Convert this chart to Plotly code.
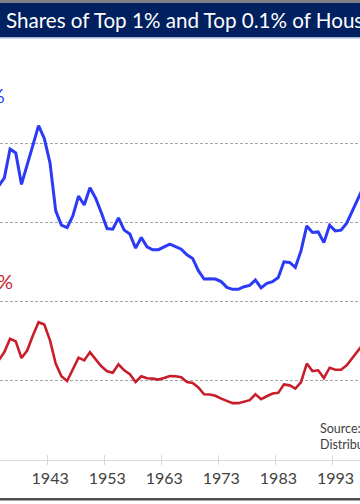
import plotly.graph_objects as go

years = list(range(1934, 1999))
top1 = [13.84, 14.25, 15.71, 15.51, 13.92, 14.93, 15.93, 16.89, 16.24, 15.01,
        12.58, 11.86, 11.74, 12.33, 13.33, 12.88, 13.75, 13.22, 12.49, 11.69,
        11.66, 12.23, 11.61, 11.41, 10.70, 11.24, 10.77, 10.62, 10.62, 10.77,
        10.90, 10.78, 10.65, 10.36, 10.18, 9.56, 9.14, 9.16, 9.14, 9.01,
        8.72, 8.62, 8.62, 8.75, 8.82, 9.09, 8.69, 8.92, 9.01, 9.22,
        10.01, 9.98, 9.73, 10.57, 11.82, 11.49, 11.52, 10.98, 11.86, 11.57,
        11.61, 11.96, 12.58, 13.17, 13.84]
top01 = [5.03, 5.45, 6.12, 5.99, 5.15, 5.53, 6.29, 6.96, 6.84, 6.04,
         4.87, 4.23, 3.99, 4.56, 5.17, 5.03, 5.45, 5.08, 4.73, 4.48,
         4.41, 4.83, 4.53, 4.33, 3.94, 4.23, 4.13, 4.11, 4.06, 4.14,
         4.24, 4.23, 4.18, 3.94, 3.89, 3.66, 3.32, 3.31, 3.24, 3.10,
         2.97, 2.87, 2.87, 2.93, 3.02, 3.32, 3.07, 3.22, 3.36, 3.39,
         3.82, 3.77, 3.61, 3.94, 4.87, 4.49, 4.53, 4.14, 4.66, 4.56,
         4.56, 4.78, 5.17, 5.53, 5.90]
tick_years = [1933, 1943, 1953, 1963, 1973, 1983, 1993]
tick_labels = [str(y) for y in tick_years]
grid_vals = [4, 8, 12, 16, 20]

BLUE = "#2b3af7"
RED = "#c81e2b"
FONT = "Lato"

W, H = 360, 504
TOP, BOT = 64, 460
PH = BOT - TOP

def py(px):
    return (BOT - px) / PH

fig = go.Figure()
fig.add_trace(go.Scatter(x=years, y=top1, mode="lines",
                         line=dict(color=BLUE, width=3), showlegend=False))
fig.add_trace(go.Scatter(x=years, y=top01, mode="lines",
                         line=dict(color=RED, width=2.6), showlegend=False))
# invisible trace for secondary tick axis
fig.add_trace(go.Scatter(x=[years[0]], y=[0], xaxis="x2", mode="markers",
                         marker=dict(opacity=0), showlegend=False, hoverinfo="skip"))

x0 = 1943 - 50 / 5.706
x1 = x0 + W / 5.706

fig.update_layout(
    width=W, height=H,
    margin=dict(l=0, r=0, t=TOP, b=H - BOT),
    paper_bgcolor="white", plot_bgcolor="white",
    font=dict(family=FONT, color="#404040"),
    xaxis=dict(range=[x0, x1], tickvals=[y - 0.5 for y in tick_years], ticktext=tick_labels,
               ticklabelshift=3, ticks="outside", ticklen=4, tickcolor="#d9d9d9",
               showline=True, linecolor="#d9d9d9", linewidth=1, showgrid=False,
               zeroline=False, tickfont=dict(size=16, color="#404040", family=FONT)),
    xaxis2=dict(range=[x0, x1], overlaying="x", anchor="y", side="bottom",
                tickvals=[y - 0.5 for y in tick_years], ticks="inside", ticklen=5,
                tickcolor="#d9d9d9", showticklabels=False, showgrid=False,
                zeroline=False, showline=False),
    yaxis=dict(range=[0, 20], tickvals=grid_vals, showticklabels=False,
               showgrid=True, gridcolor="#a6a6a6", gridwidth=1, griddash="3px,2px",
               zeroline=False, showline=False, ticks=""),
)

# title bar and border lines
fig.add_shape(type="rect", xref="paper", yref="paper", x0=0, x1=1, y0=py(37), y1=py(2.5),
              fillcolor="#002060", line=dict(width=0), layer="above")
fig.add_shape(type="rect", xref="paper", yref="paper", x0=0, x1=1, y0=py(2.5), y1=py(0),
              fillcolor="#7f7f7f", line=dict(width=0))
fig.add_shape(type="rect", xref="paper", yref="paper", x0=0, x1=1, y0=py(38.5), y1=py(37),
              fillcolor="#9fb3d9", line=dict(width=0))
fig.add_shape(type="rect", xref="paper", yref="paper", x0=0, x1=1, y0=py(500.5), y1=py(498),
              fillcolor="#505050", line=dict(width=0))

fig.add_annotation(xref="paper", yref="paper", x=4 / W, y=py(20), xanchor="left", yanchor="middle",
                   text="Shares of Top 1% and Top 0.1% of Household Income", showarrow=False,
                   font=dict(size=20.6, color="white", family=FONT))
fig.add_annotation(xref="paper", yref="paper", x=7 / W, y=py(95), xanchor="right", yanchor="middle",
                   text="Top 1%", showarrow=False, font=dict(size=20, color=BLUE, family=FONT))
fig.add_annotation(xref="paper", yref="paper", x=15 / W, y=py(281), xanchor="right", yanchor="middle",
                   text="Top 0.1%", showarrow=False, font=dict(size=20, color=RED, family=FONT))
fig.add_annotation(xref="paper", yref="paper", x=318 / W, y=py(436), xanchor="left", yanchor="middle",
                   text="Source: Piketty, Saez and Zucman,<br>Distributional National Accounts",
                   showarrow=False, align="left",
                   font=dict(size=12.5, color="#404040", family=FONT))

fig.write_html("out.html", config={"displayModeBar": False},
               post_script="document.body.style.margin='0';document.body.style.overflow='hidden';")
